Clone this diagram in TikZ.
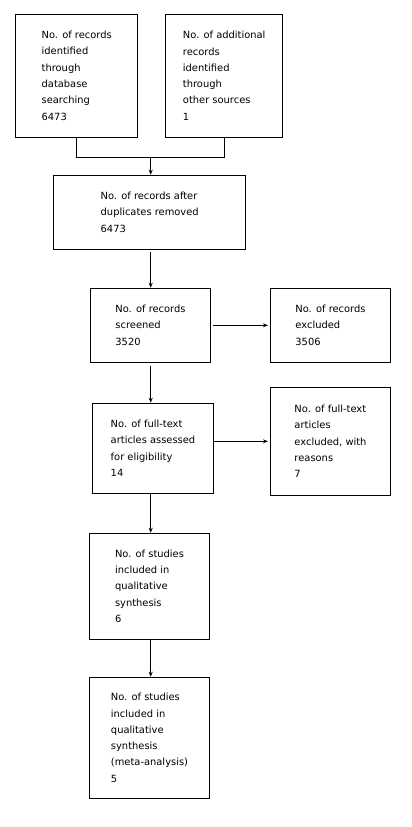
\documentclass[tikz,border=0pt]{standalone}
\usepackage{fontspec}
\setmainfont{DejaVu Sans}
\usetikzlibrary{arrows.meta}
\tikzset{box/.style={draw, align=left, inner sep=0pt,
    font=\fontsize{9.9}{16.3}\selectfont}}

\begin{document}
\begin{tikzpicture}[x=1pt,y=-1pt,line width=1.1pt,
    >={Stealth[length=5pt,width=4pt]}]
\useasboundingbox (0,0) rectangle (412,827);
\node[box,minimum width=122pt,minimum height=123pt] (Ident) at (76.7,75.7)
     {No. of records\\identified\\through\\database\\searching\\6473};
\node[box,minimum width=117pt,minimum height=123pt] (Other) at (224.2,75.7)
     {No. of additional\\records\\identified\\through\\other sources\\1};
\node[box,minimum width=192pt,minimum height=74pt] (Dupl) at (149.7,212.3)
     {No. of records after\\duplicates removed\\6473};
\node[box,minimum width=120pt,minimum height=74pt] (Screen) at (150.5,325.3)
     {No. of records\\screened\\3520};
\node[box,minimum width=120pt,minimum height=74pt] (Excl) at (330.5,325.3)
     {No. of records\\excluded\\3506};
\node[box,minimum width=121pt,minimum height=90pt] (Full) at (153,448.3)
     {No. of full-text\\articles assessed\\for eligibility\\14};
\node[box,minimum width=120pt,minimum height=108pt] (Full-excl) at (330.5,441.3)
     {No. of full-text\\articles\\excluded, with\\reasons\\7};
\node[box,minimum width=120pt,minimum height=106pt] (Qual) at (149.5,586.3)
     {No. of studies\\included in\\qualitative\\synthesis\\6};
\node[box,minimum width=120pt,minimum height=121pt] (Meta) at (149.5,737.8)
     {No. of studies\\included in\\qualitative\\synthesis\\(meta-analysis)\\5};

\coordinate (merge) at (150.7,157.3);
\draw (Ident.south) |- (merge) -| (Other.south);
\path[->] (merge) edge (merge |- Dupl.north);
\path[->,shorten <=2pt] (merge |- Dupl.south) edge (merge |- Screen.north);
\path[->,shorten <=2pt,shorten >=2pt] (Screen.east) edge (Screen.east -| Excl.west);
\path[->,shorten <=3pt] (merge |- Screen.south) edge (merge |- Full.north);
\path[->,shorten >=2pt] (Full.east |- Full-excl.west) edge (Full-excl.west);
\path[->] (merge |- Full.south) edge (merge |- Qual.north);
\path[->] (merge |- Qual.south) edge (merge |- Meta.north);
\end{tikzpicture}
\end{document}
